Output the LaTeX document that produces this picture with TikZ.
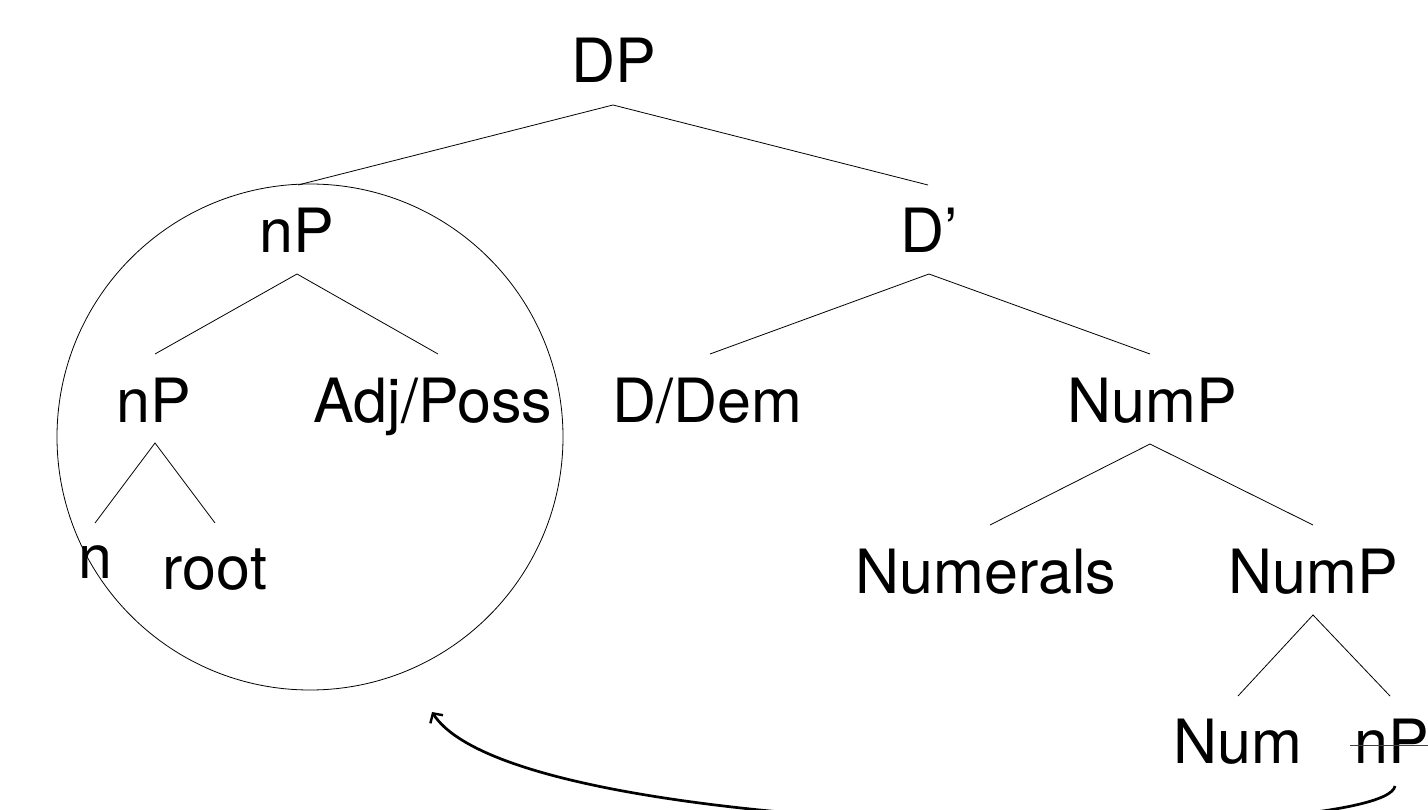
\documentclass[tikz,border=0pt]{standalone}
\usepackage{fontspec}
\setmainfont{TeX Gyre Heros}
\usetikzlibrary{arrows.meta}
\tikzset{
  lbl/.style={anchor=base, inner sep=0pt, font=\fontsize{61}{70}\selectfont},
  br/.style={line width=0.8pt},
  mv/.style={line width=2.7pt, -{Straight Barb[length=7pt,width=15pt,line width=2.4pt]}},
}
\begin{document}
\begin{tikzpicture}[x=1pt,y=-1pt]
\useasboundingbox (0,0) rectangle (1428,810);
\clip (0,0) rectangle (1428,810);
% labels
\node[lbl] (DP) at (614,83) {DP};
\node[lbl] (nP1) at (297,253) {nP};
\node[lbl] (Dbar) at (929,253) {D’};
\node[lbl] (nP2) at (154,422) {nP};
\node[lbl] (Adj) at (433,422) {Adj/Poss};
\node[lbl] (DDem) at (707,422) {D/Dem};
\node[lbl] (NumP1) at (1152,422) {NumP};
\node[lbl] (n) at (95,578) {n};
\node[lbl] (root) at (215,589) {root};
\node[lbl] (Numerals) at (986,593) {Numerals};
\node[lbl] (NumP2) at (1313,593) {NumP};
\node[lbl] (Num) at (1238,763) {Num};
\node[lbl] (nP3) at (1392,763) {nP};
% branch coordinates
\coordinate (aDP) at (613,105);
\coordinate (aNP1) at (297,274);
\coordinate (aD) at (929,274);
\coordinate (aNP2) at (155,443);
\coordinate (aNumP1) at (1150,444);
\coordinate (aNumP2) at (1313,615);
\coordinate (tNP1) at (298,185);
\coordinate (tD) at (928,185);
\coordinate (tNP2) at (155,354);
\coordinate (tAdj) at (438,354);
\coordinate (tDDem) at (710,354);
\coordinate (tNumP1) at (1150,354);
\coordinate (tn) at (95,523);
\coordinate (troot) at (215,523);
\coordinate (tNumerals) at (990,525);
\coordinate (tNumP2) at (1313,525);
\coordinate (tNum) at (1238,696);
\coordinate (tnP3) at (1390,696);
% branches
\draw[br] (tNP1) -- (aDP) -- (tD);
\draw[br] (tNP2) -- (aNP1) -- (tAdj);
\draw[br] (tDDem) -- (aD) -- (tNumP1);
\draw[br] (tn) -- (aNP2) -- (troot);
\draw[br] (tNumerals) -- (aNumP1) -- (tNumP2);
\draw[br] (tNum) -- (aNumP2) -- (tnP3);
% circle around nP
\node[draw, line width=0.8pt, circle, minimum size=506pt, inner sep=0pt] (circ) at (310,437) {};
% strike-through
\coordinate (sL) at (1350,745);
\coordinate (sR) at (1440,745);
\draw[line width=1pt, black!75] (sL) -- (sR);
% movement arrow
\coordinate (mS) at (1395,786);
\coordinate (mT) at (432,712);
\draw[mv] (mS) .. controls (1385,845) and (520,848) .. (mT);
\end{tikzpicture}
\end{document}
